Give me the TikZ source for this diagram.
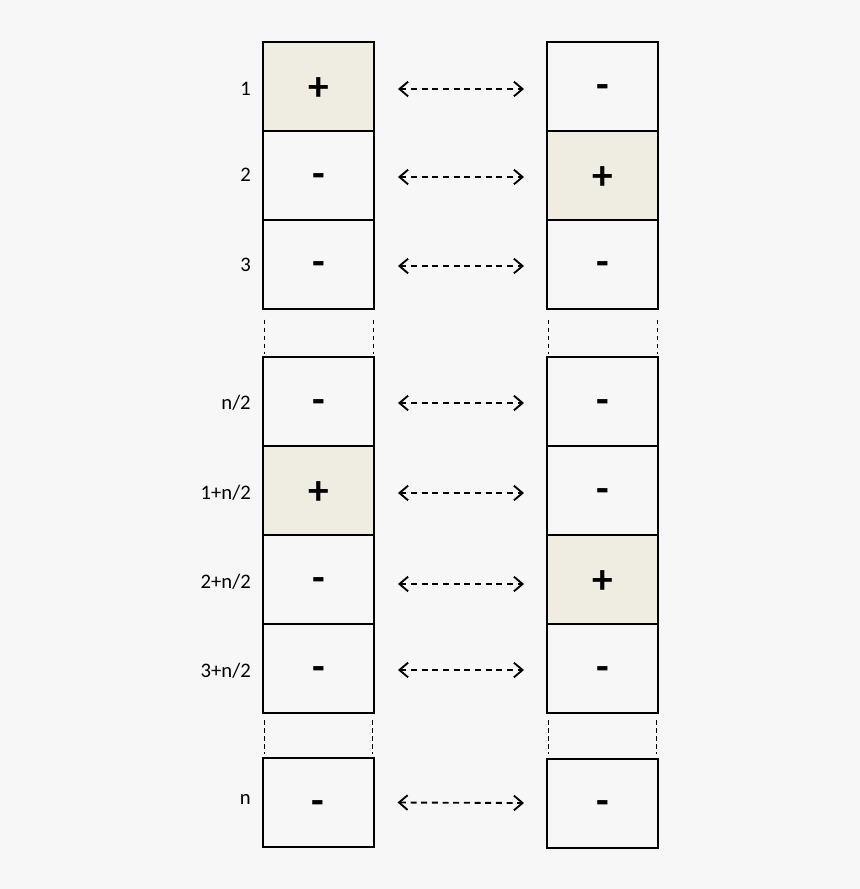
\documentclass[tikz,border=0pt]{standalone}
\usepackage{fontspec}
\setmainfont{Carlito}
\usetikzlibrary{arrows.meta}
\definecolor{bg}{HTML}{F7F7F7}
\definecolor{shade}{HTML}{EFECE2}
\newcommand{\signplus}{\raisebox{-0.33em}[0pt][0pt]{+}}
\newcommand{\signminus}{\raisebox{-0.29em}[0pt][0pt]{-}}
\tikzset{
  cell/.style={draw=black, line width=1.5pt, fill=bg, minimum width=111*0.75pt, minimum height=89*0.75pt, inner sep=0pt, font=\bfseries\fontsize{31}{31}\selectfont},
  hot/.style={cell, fill=shade},
  lab/.style={anchor=east, inner sep=0pt, font=\fontsize{15.5}{15.5}\selectfont},
  link/.style={line width=1.4pt, dash pattern=on 4.5pt off 3.5pt, {Straight Barb[length=6.5pt,width=11pt,line width=1.4pt]}-{Straight Barb[length=6.5pt,width=11pt,line width=1.4pt]}},
  gap/.style={line width=0.7pt, dash pattern=on 3.5pt off 2.5pt}
}
\begin{document}
\begin{tikzpicture}[x=0.75pt,y=-0.75pt]
\fill[bg] (0,0) rectangle (860,889);
\useasboundingbox (0,0) rectangle (860,889);
% left column
\node[hot]  (L1) at (318.5,86.5) {\signplus};
\node[cell] (L2) at (318.5,175.5) {\signminus};
\node[cell] (L3) at (318.5,264) {\signminus};
\node[cell] (L4) at (318.5,401.5) {\signminus};
\node[hot]  (L5) at (318.5,490.5) {\signplus};
\node[cell] (L6) at (318.5,579.5) {\signminus};
\node[cell] (L7) at (318.5,668.5) {\signminus};
\node[cell] (L8) at (318,802.5) {\signminus};
% right column
\node[cell] (R1) at (602.5,86.5) {\signminus};
\node[hot]  (R2) at (602.5,175.5) {\signplus};
\node[cell] (R3) at (602.5,264) {\signminus};
\node[cell] (R4) at (602.5,401.5) {\signminus};
\node[cell] (R5) at (602.5,490.5) {\signminus};
\node[hot]  (R6) at (602.5,579.5) {\signplus};
\node[cell] (R7) at (602.5,668.5) {\signminus};
\node[cell] (R8) at (602.5,803) {\signminus};
% labels
\node[lab] (t1) at (251,89) {1};
\node[lab] (t2) at (251,175) {2};
\node[lab] (t3) at (251,265) {3};
\node[lab] (t4) at (251,403) {n/2};
\node[lab] (t5) at (251,493) {1+n/2};
\node[lab] (t6) at (251,582) {2+n/2};
\node[lab] (t7) at (251,671) {3+n/2};
\node[lab] (t8) at (251,799) {n};
% arrows
\foreach \i/\dy in {1/2.5,2/1.5,3/2,4/1.5,5/2.5,6/4.5,7/1.5,8/0} {
  \path (L\i.east) ++(23,\dy) coordinate (a\i);
  \path (R\i.west) ++(-22,\dy) coordinate (b\i);
  \draw[link] (a\i) -- (b\i);
}
% gap dashes
\draw[gap] (L3.south west) ++(2,10) -- ++(0,34);
\draw[gap] (L3.south east) ++(-2,10) -- ++(0,34);
\draw[gap] (R3.south west) ++(2,10) -- ++(0,34);
\draw[gap] (R3.south east) ++(-2,10) -- ++(0,34);
\draw[gap] (L7.south west) ++(2,6) -- ++(0,34);
\draw[gap] (L7.south east) ++(-3,6) -- ++(0,34);
\draw[gap] (R7.south west) ++(2,6) -- ++(0,34);
\draw[gap] (R7.south east) ++(-3,6) -- ++(0,34);
\end{tikzpicture}
\end{document}
